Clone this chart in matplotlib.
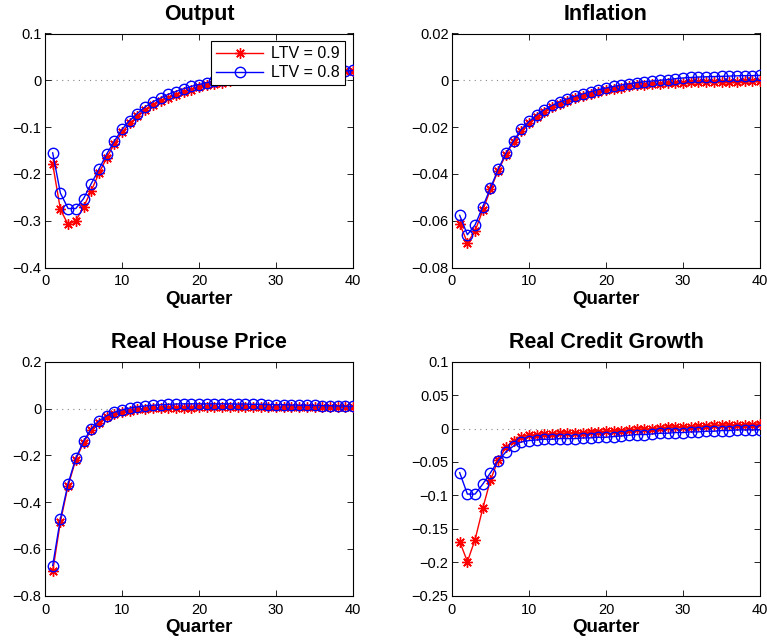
import numpy as np
import matplotlib
matplotlib.use("Agg")
import matplotlib.pyplot as plt
from matplotlib.ticker import FuncFormatter

plt.rcParams['font.family'] = ['Liberation Sans', 'DejaVu Sans']

# ==================== 数据 ====================
quarters = list(range(1, 41))

output_ltv09 = [-0.179, -0.276, -0.308, -0.300, -0.271, -0.236, -0.199, -0.166, -0.136, -0.111,
                -0.092, -0.077, -0.064, -0.053, -0.045, -0.037, -0.031, -0.025, -0.020, -0.015,
                -0.011, -0.008, -0.005, -0.002, 0.000, 0.002, 0.004, 0.006, 0.008, 0.009,
                0.011, 0.012, 0.013, 0.014, 0.015, 0.016, 0.017, 0.018, 0.019, 0.020]
output_ltv08 = [-0.155, -0.241, -0.274, -0.274, -0.253, -0.221, -0.190, -0.158, -0.130, -0.105,
                -0.086, -0.071, -0.057, -0.046, -0.038, -0.030, -0.024, -0.018, -0.013, -0.009,
                -0.005, -0.002, 0.000, 0.002, 0.004, 0.006, 0.008, 0.009, 0.011, 0.012,
                0.013, 0.014, 0.015, 0.016, 0.017, 0.018, 0.019, 0.020, 0.020, 0.021]

infl_ltv09 = [-0.0613, -0.0694, -0.0644, -0.0555, -0.0466, -0.0386, -0.0318, -0.0263, -0.0216, -0.0183,
              -0.0156, -0.0134, -0.0116, -0.0101, -0.0088, -0.0077, -0.0067, -0.0058, -0.0050, -0.0043,
              -0.0037, -0.0031, -0.0026, -0.0022, -0.0019, -0.0016, -0.0014, -0.0012, -0.0011, -0.0010,
              -0.0009, -0.0008, -0.0008, -0.0007, -0.0007, -0.0006, -0.0006, -0.0005, -0.0005, -0.0005]
infl_ltv08 = [-0.0577, -0.0660, -0.0618, -0.0540, -0.0460, -0.0380, -0.0312, -0.0258, -0.0210, -0.0176,
              -0.0148, -0.0125, -0.0107, -0.0092, -0.0079, -0.0068, -0.0058, -0.0049, -0.0040, -0.0033,
              -0.0026, -0.0020, -0.0015, -0.0010, -0.0006, -0.0003, 0.0000, 0.0003, 0.0007, 0.0010,
              0.0012, 0.0014, 0.0015, 0.0016, 0.0017, 0.0018, 0.0019, 0.0020, 0.0020, 0.0021]

house_ltv09 = [-0.696, -0.484, -0.330, -0.219, -0.146, -0.093, -0.060, -0.038, -0.024, -0.015,
               -0.009, -0.004, -0.001, 0.001, 0.002, 0.003, 0.004, 0.004, 0.004, 0.005,
               0.005, 0.005, 0.005, 0.005, 0.005, 0.005, 0.005, 0.005, 0.006, 0.006,
               0.006, 0.006, 0.006, 0.007, 0.007, 0.007, 0.007, 0.008, 0.008, 0.008]
house_ltv08 = [-0.671, -0.471, -0.321, -0.212, -0.140, -0.087, -0.053, -0.031, -0.016, -0.006,
               0.002, 0.007, 0.011, 0.014, 0.016, 0.018, 0.019, 0.020, 0.020, 0.020,
               0.020, 0.020, 0.020, 0.020, 0.019, 0.019, 0.018, 0.018, 0.017, 0.016,
               0.016, 0.015, 0.014, 0.014, 0.013, 0.012, 0.012, 0.011, 0.010, 0.010]

credit_ltv09 = [-0.169, -0.199, -0.166, -0.119, -0.077, -0.047, -0.028, -0.018, -0.012, -0.010,
                -0.009, -0.008, -0.008, -0.007, -0.007, -0.006, -0.006, -0.005, -0.005, -0.004,
                -0.003, -0.003, -0.002, -0.001, -0.001, 0.000, 0.001, 0.002, 0.002, 0.003,
                0.003, 0.004, 0.004, 0.005, 0.005, 0.005, 0.006, 0.006, 0.006, 0.007]
credit_ltv08 = [-0.066, -0.098, -0.098, -0.083, -0.066, -0.048, -0.035, -0.026, -0.020, -0.018,
                -0.017, -0.016, -0.016, -0.015, -0.015, -0.015, -0.014, -0.014, -0.013, -0.013,
                -0.012, -0.011, -0.010, -0.009, -0.009, -0.008, -0.007, -0.007, -0.006, -0.006,
                -0.005, -0.005, -0.004, -0.004, -0.003, -0.003, -0.002, -0.002, -0.002, -0.002]

titles = ["Output", "Inflation", "Real House Price", "Real Credit Growth"]
series = [(output_ltv09, output_ltv08), (infl_ltv09, infl_ltv08),
          (house_ltv09, house_ltv08), (credit_ltv09, credit_ltv08)]
ylims = [(-0.4, 0.1), (-0.08, 0.02), (-0.8, 0.2), (-0.25, 0.1)]
yticks = [[-0.4, -0.3, -0.2, -0.1, 0, 0.1],
          [-0.08, -0.06, -0.04, -0.02, 0, 0.02],
          [-0.8, -0.6, -0.4, -0.2, 0, 0.2],
          [-0.25, -0.2, -0.15, -0.1, -0.05, 0, 0.05, 0.1]]
labels = ["LTV = 0.9", "LTV = 0.8"]

# ==================== 绘图 ====================
W, H = 767, 641
fig = plt.figure(figsize=(W / 100, H / 100), dpi=100)

# 子图位置（像素 -> 比例）
lefts = [45, 452]
tops = [33.5, 361.7]
aw, ah = 308, 234

fmt = FuncFormatter(lambda v, p: ('%g' % round(v, 6)).replace('-', '\u2212'))
asterisk = (8, 2, 0)   # MATLAB 风格的 * 标记

for i in range(4):
    r, c = divmod(i, 2)
    ax = fig.add_axes([lefts[c] / W, 1 - (tops[r] + ah) / H, aw / W, ah / H])
    red, blue = series[i]
    ax.plot([0, 40], [0, 0], color='#888888', ls=(0, (1, 4)), lw=0.8, zorder=1)
    ax.plot(quarters, red, color='red', marker=asterisk, markersize=7.5, mew=1.0,
            lw=1.0, label=labels[0], zorder=3)
    ax.plot(quarters, blue, color='blue', marker='o', markersize=7.5, mfc='none',
            mew=1.0, lw=1.0, label=labels[1], zorder=4)
    ax.set_xlim(0, 40)
    ax.set_ylim(*ylims[i])
    ax.set_xticks([0, 10, 20, 30, 40])
    ax.set_yticks(yticks[i])
    ax.yaxis.set_major_formatter(fmt)
    ax.tick_params(direction='in', top=True, right=True, length=4, labelsize=10.5,
                   width=0.6)
    ax.tick_params(axis='x', pad=5)
    ax.tick_params(axis='y', pad=2.5)
    for s in ax.spines.values():
        s.set_linewidth(0.8)
    ax.set_title(titles[i], fontsize=15.5, fontweight='bold', pad=10)
    ax.set_xlabel("Quarter", fontsize=13.5, fontweight='bold', labelpad=2)
    if i == 0:
        leg = ax.legend(loc='upper right', fontsize=11.5, handlelength=3.0,
                        fancybox=False, framealpha=1, edgecolor='black',
                        borderaxespad=0.5, borderpad=0.3, labelspacing=0.25,
                        handletextpad=0.5)
        leg.get_frame().set_linewidth(0.8)

plt.savefig("out.png", dpi=100)
